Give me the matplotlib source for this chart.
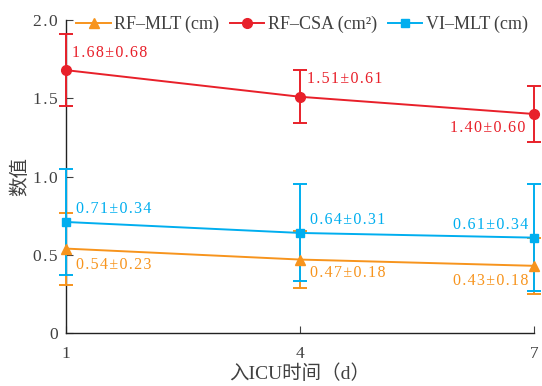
import matplotlib.pyplot as plt
from matplotlib.lines import Line2D

plt.rcParams['font.family'] = ['Liberation Serif', 'Noto Sans CJK SC']
plt.rcParams['axes.unicode_minus'] = False

# 数据
days = [1, 4, 7]
series = ['RF\u2013MLT\u2009(cm)', 'RF\u2013CSA\u2009(cm\u00b2)', 'VI\u2013MLT\u2009(cm)']
mlt_rf = [0.54, 0.47, 0.43]
mlt_rf_err = [0.23, 0.18, 0.18]
csa_rf = [1.68, 1.51, 1.40]
csa_rf_err = [0.23, 0.17, 0.18]
mlt_vi = [0.71, 0.64, 0.61]
mlt_vi_err = [0.34, 0.31, 0.34]
lbl_rf_mlt = ['0.54\u00b10.23', '0.47\u00b10.18', '0.43\u00b10.18']
lbl_rf_csa = ['1.68\u00b10.68', '1.51\u00b10.61', '1.40\u00b10.60']
lbl_vi_mlt = ['0.71\u00b10.34', '0.64\u00b10.31', '0.61\u00b10.34']

c_orange = '#F7941D'
c_red = '#E8202A'
c_blue = '#00AEEF'
c_text = '#404040'

def spaced(s):
    return '\u200a'.join(s)

fig = plt.figure(figsize=(5.42, 3.86), dpi=100)
ax = fig.add_axes([0.122, 0.137, 0.863, 0.811])

kw = dict(lw=1.4, capsize=5, elinewidth=1.4, capthick=1.4, clip_on=False, zorder=3)
ax.errorbar(days, mlt_rf, yerr=mlt_rf_err, color=c_orange, marker='^', ms=7, **kw)
ax.errorbar(days, csa_rf, yerr=csa_rf_err, color=c_red, marker='o', ms=7, **kw)
ax.errorbar(days, mlt_vi, yerr=mlt_vi_err, color=c_blue, marker='s', ms=6, **kw)

# 数值标注
def put(vals, labels, color, offs):
    for x, y, t, (dx, dy, ha) in zip(days, vals, labels, offs):
        ax.annotate(spaced(t), (x, y), xytext=(dx, dy), textcoords='offset points',
                    color=color, fontsize=11.5, ha=ha, va='center')

put(csa_rf, lbl_rf_csa, c_red, [(4, 12, 'left'), (5, 13, 'left'), (-6, -10, 'right')])
put(mlt_vi, lbl_vi_mlt, c_blue, [(7, 9, 'left'), (7, 9, 'left'), (-4, 9, 'right')])
put(mlt_rf, lbl_rf_mlt, c_orange, [(7, -12, 'left'), (7, -10, 'left'), (-4, -11, 'right')])

ax.set_xlim(1, 7)
ax.set_ylim(0, 2.0)
ax.set_xticks(days)
ax.set_yticks([0, 0.5, 1.0, 1.5, 2.0])
ax.set_yticklabels([spaced(t) for t in ['0', '0.5', '1.0', '1.5', '2.0']])
ax.tick_params(direction='in', length=5, labelsize=12.5, colors=c_text)
ax.tick_params(axis='x', pad=9)
ax.tick_params(axis='y', pad=6)
for s in ['top', 'right']:
    ax.spines[s].set_visible(False)
for s in ['left', 'bottom']:
    ax.spines[s].set_color('#222222')
    ax.spines[s].set_linewidth(1.0)

ax.set_ylabel('数值', fontsize=14, color=c_text, labelpad=3)
ax.set_xlabel('入ICU时间（d）', fontsize=14, color=c_text, labelpad=2)

handles = [
    Line2D([], [], color=c_orange, marker='^', ms=7, lw=1.4),
    Line2D([], [], color=c_red, marker='o', ms=7, lw=1.4),
    Line2D([], [], color=c_blue, marker='s', ms=6, lw=1.4),
]
ax.legend(handles, series, loc='center left', bbox_to_anchor=(0.022, 0.985), ncol=3,
          frameon=False, fontsize=13, handlelength=1.9, handletextpad=0.2,
          columnspacing=0.6, borderaxespad=0, borderpad=0, labelcolor=c_text)

fig.savefig('out.png', dpi=100)
